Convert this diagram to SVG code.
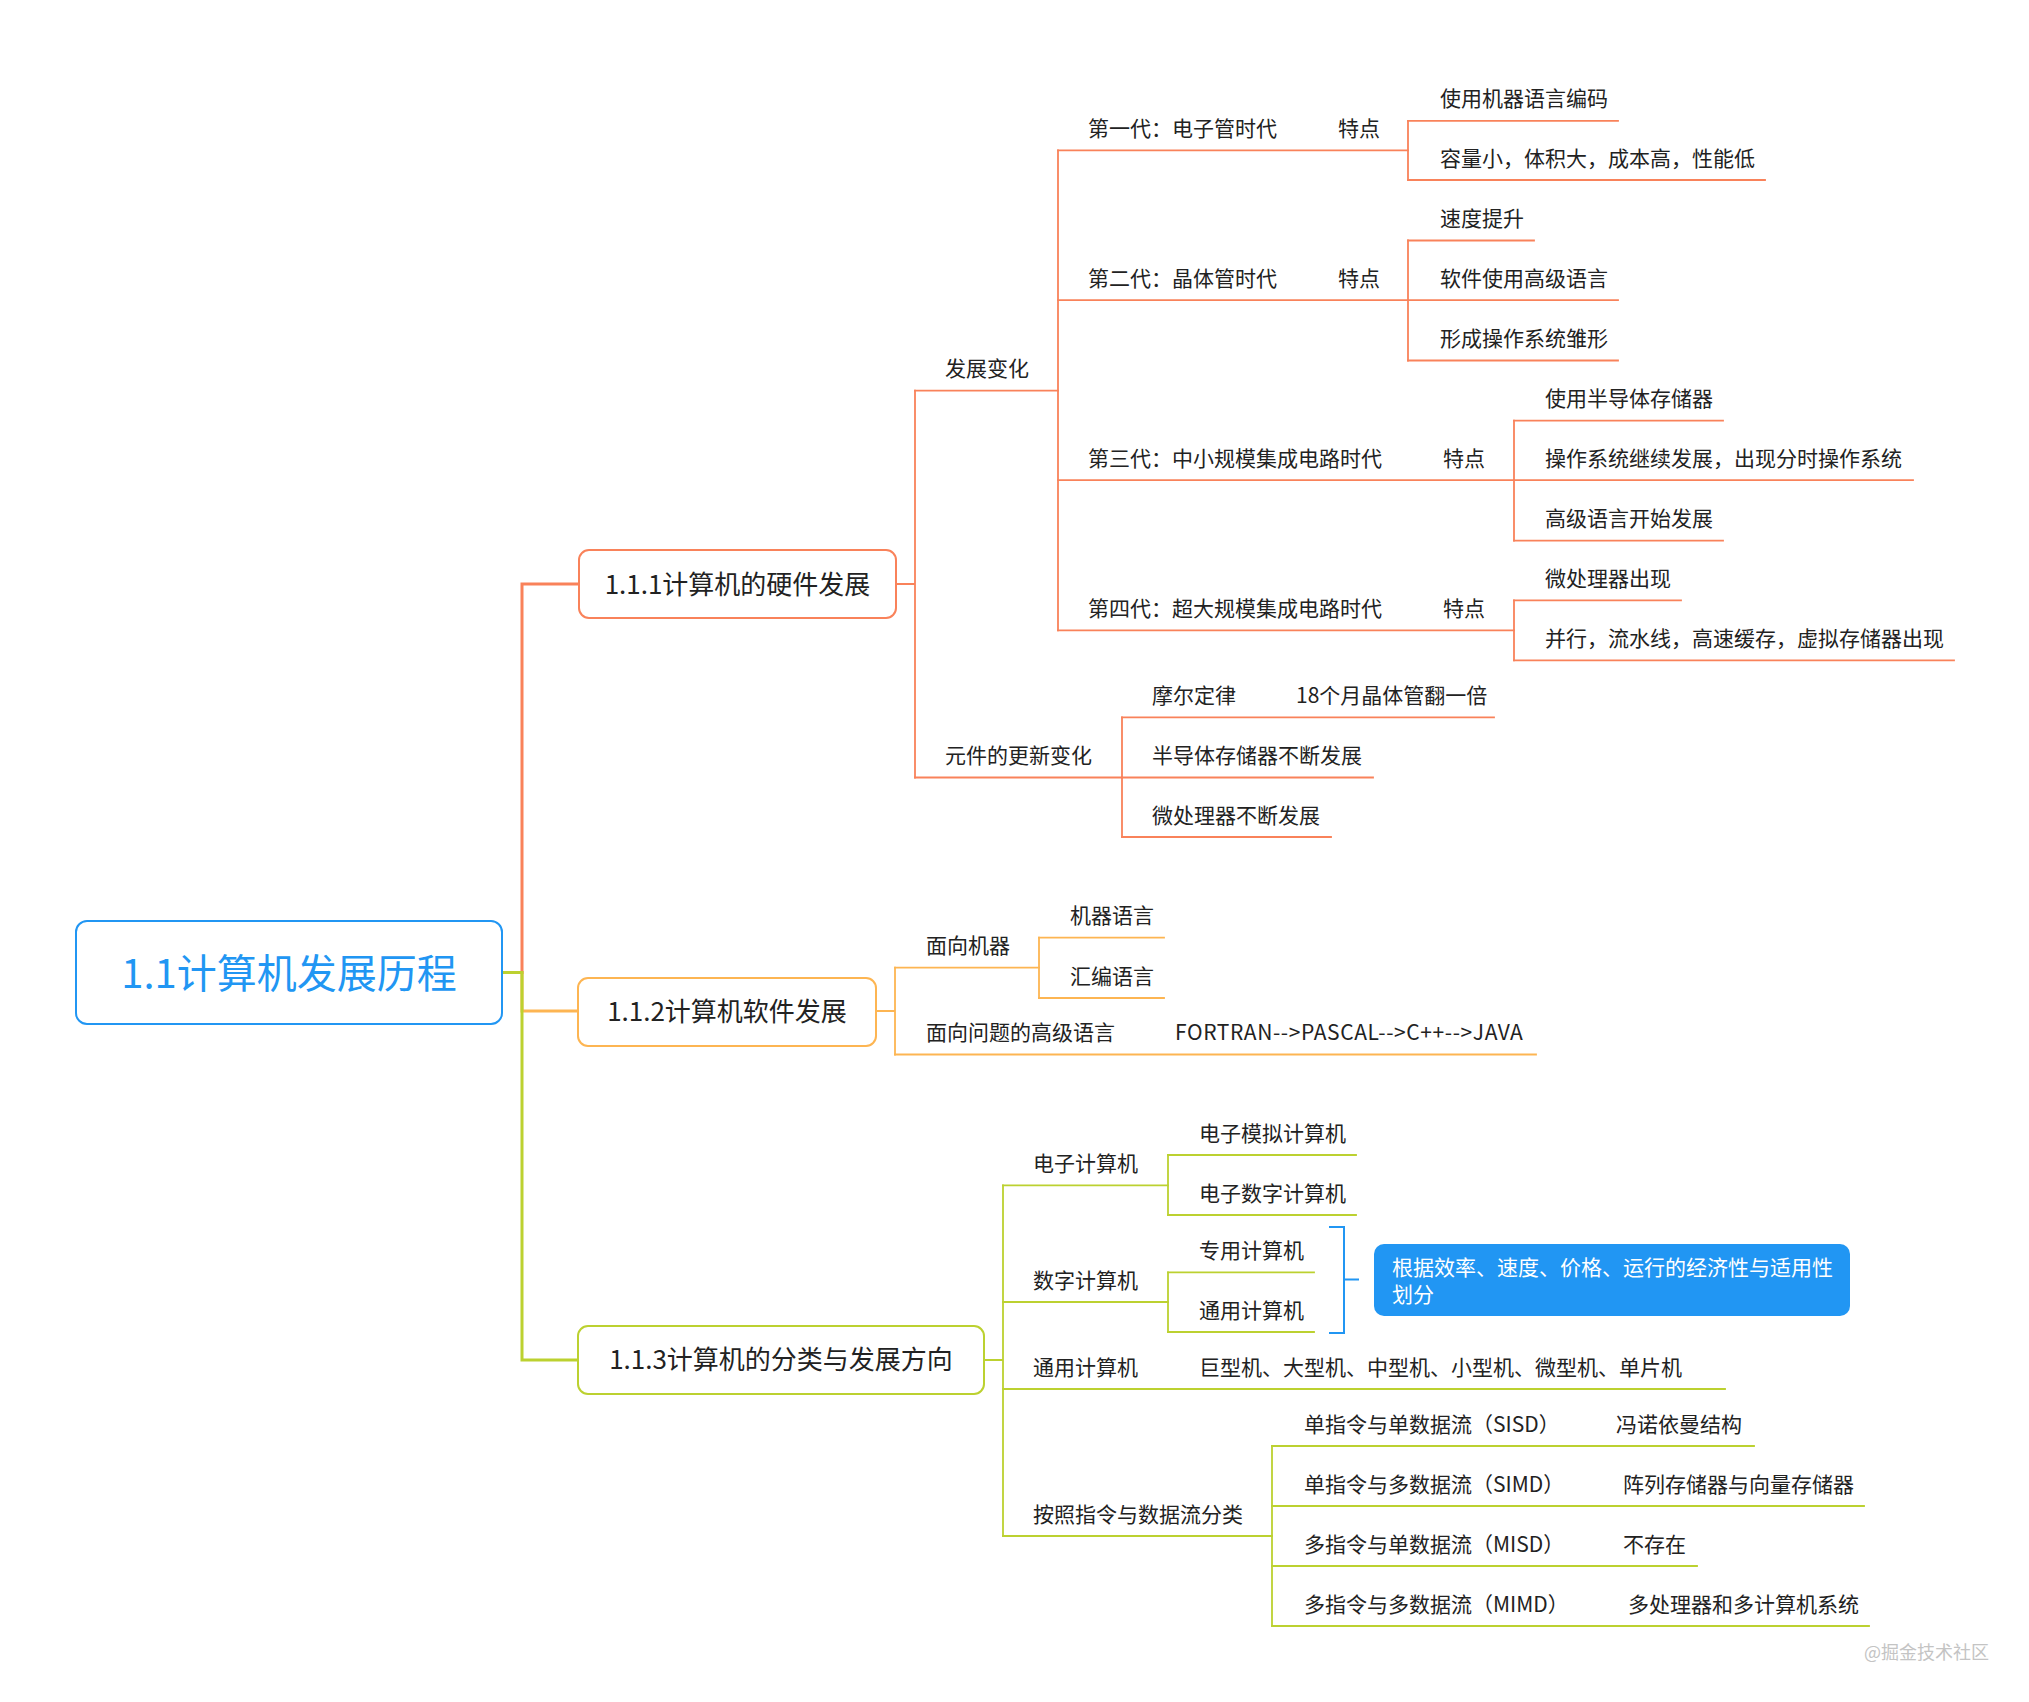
<svg xmlns="http://www.w3.org/2000/svg" width="2029" height="1702" viewBox="0 0 2029 1702">
<style>
text{font-family:"Noto Sans CJK SC","Noto Sans",sans-serif;}
.t{font-size:21px;fill:#222;}
.m{font-size:26px;fill:#222;text-anchor:middle;}
.r{font-size:40px;fill:#2196F3;text-anchor:middle;}
.w{font-size:21px;fill:#fff;}
.wm{font-size:18px;fill:#c4c4c4;}
.ln{fill:none;stroke-width:1.8;stroke-linecap:square;}
.tr{fill:none;stroke-width:3;stroke-linejoin:miter;}
.o{stroke:#F9825A;}
.lo{stroke:#FDB552;}
.g{stroke:#BCD130;}
.box{fill:#fff;stroke-width:2;}
</style>
<rect width="2029" height="1702" fill="#fff"/>
<g id="connectors">
  <path class="tr lo" d="M502 972.5H522V1011H578"/>
  <path class="tr o" d="M502 972.5H522V584H579"/>
  <path class="tr g" d="M502 972.5H522V1360H578"/>
  <path class="ln o" d="M896 584H915M915 390.6V777.5M1058 150.4V630.3M1408 120.8V180M1408 240.5V360.5M1514 420.6V540.6M1514 600.3V660.3M1122 717.4V837"/>
  <path class="ln lo" d="M876 1011H895M895 967.7V1054.5M1039 937.7V998"/>
  <path class="ln g" d="M984 1360H1003M1003 1185.4V1536M1168 1155V1215M1168 1272.4V1332M1272 1446V1626"/>
  <path fill="none" stroke="#2196F3" stroke-width="2" d="M1329 1227H1344V1333H1329M1344 1279.5H1359"/>
</g>
<g id="root">
  <rect x="76" y="921" width="426" height="103" rx="11" fill="#fff" stroke="#2196F3" stroke-width="2"/>
  <text class="r" x="289" y="988">1.1计算机发展历程</text>
</g>
<g id="n111">
  <rect class="box o" x="579" y="550" width="317" height="68" rx="10"/>
  <text class="m" x="737.5" y="594">1.1.1计算机的硬件发展</text>
</g>
<g id="n112">
  <rect class="box lo" x="578" y="978" width="298" height="68" rx="10"/>
  <text class="m" x="727" y="1021">1.1.2计算机软件发展</text>
</g>
<g id="n113">
  <rect class="box g" x="578" y="1326" width="406" height="68" rx="10"/>
  <text class="m" x="781" y="1369">1.1.3计算机的分类与发展方向</text>
</g>
<g id="fazhan">
  <path class="ln o" d="M915 390.6H1058"/>
  <text class="t" x="945" y="376">发展变化</text>
</g>
<g id="gen1">
  <path class="ln o" d="M1058 150.4H1408"/>
  <text class="t" x="1088" y="136">第一代：电子管时代</text>
  <text class="t" x="1338" y="136">特点</text>
</g>
<g id="gen1a">
  <path class="ln o" d="M1408 120.8H1618"/>
  <text class="t" x="1440" y="106">使用机器语言编码</text>
</g>
<g id="gen1b">
  <path class="ln o" d="M1408 180H1765"/>
  <text class="t" x="1440" y="165.5">容量小，体积大，成本高，性能低</text>
</g>
<g id="gen2">
  <path class="ln o" d="M1058 300.2H1408"/>
  <text class="t" x="1088" y="285.7">第二代：晶体管时代</text>
  <text class="t" x="1338" y="285.7">特点</text>
</g>
<g id="gen2a">
  <path class="ln o" d="M1408 240.5H1534"/>
  <text class="t" x="1440" y="226">速度提升</text>
</g>
<g id="gen2b">
  <path class="ln o" d="M1408 300.2H1618"/>
  <text class="t" x="1440" y="285.7">软件使用高级语言</text>
</g>
<g id="gen2c">
  <path class="ln o" d="M1408 360.5H1618"/>
  <text class="t" x="1440" y="346">形成操作系统雏形</text>
</g>
<g id="gen3">
  <path class="ln o" d="M1058 480.2H1514"/>
  <text class="t" x="1088" y="465.7">第三代：中小规模集成电路时代</text>
  <text class="t" x="1443" y="465.7">特点</text>
</g>
<g id="gen3a">
  <path class="ln o" d="M1514 420.6H1723"/>
  <text class="t" x="1545" y="406">使用半导体存储器</text>
</g>
<g id="gen3b">
  <path class="ln o" d="M1514 480.2H1913"/>
  <text class="t" x="1545" y="465.7">操作系统继续发展，出现分时操作系统</text>
</g>
<g id="gen3c">
  <path class="ln o" d="M1514 540.6H1723"/>
  <text class="t" x="1545" y="526">高级语言开始发展</text>
</g>
<g id="gen4">
  <path class="ln o" d="M1058 630.3H1514"/>
  <text class="t" x="1088" y="615.8">第四代：超大规模集成电路时代</text>
  <text class="t" x="1443" y="615.8">特点</text>
</g>
<g id="gen4a">
  <path class="ln o" d="M1514 600.3H1681"/>
  <text class="t" x="1545" y="585.8">微处理器出现</text>
</g>
<g id="gen4b">
  <path class="ln o" d="M1514 660.3H1954"/>
  <text class="t" x="1545" y="645.8">并行，流水线，高速缓存，虚拟存储器出现</text>
</g>
<g id="yuanjian">
  <path class="ln o" d="M915 777.5H1122"/>
  <text class="t" x="945" y="763">元件的更新变化</text>
</g>
<g id="moore">
  <path class="ln o" d="M1122 717.4H1494"/>
  <text class="t" x="1152" y="703">摩尔定律</text>
  <text class="t" x="1296" y="703">18个月晶体管翻一倍</text>
</g>
<g id="semi">
  <path class="ln o" d="M1122 777.5H1373"/>
  <text class="t" x="1152" y="763">半导体存储器不断发展</text>
</g>
<g id="micro">
  <path class="ln o" d="M1122 837H1331"/>
  <text class="t" x="1152" y="822.5">微处理器不断发展</text>
</g>
<g id="mianxiangjiqi">
  <path class="ln lo" d="M895 967.7H1039"/>
  <text class="t" x="926" y="953.2">面向机器</text>
</g>
<g id="jiqiyuyan">
  <path class="ln lo" d="M1039 937.7H1164"/>
  <text class="t" x="1070" y="923.2">机器语言</text>
</g>
<g id="huibian">
  <path class="ln lo" d="M1039 998H1164"/>
  <text class="t" x="1070" y="983.5">汇编语言</text>
</g>
<g id="gaoji">
  <path class="ln lo" d="M895 1054.5H1536"/>
  <text class="t" x="926" y="1040">面向问题的高级语言</text>
  <text class="t" x="1175" y="1040" letter-spacing="0.6">FORTRAN--&gt;PASCAL--&gt;C++--&gt;JAVA</text>
</g>
<g id="dianzi">
  <path class="ln g" d="M1003 1185.4H1168"/>
  <text class="t" x="1033" y="1171">电子计算机</text>
</g>
<g id="moni">
  <path class="ln g" d="M1168 1155H1356"/>
  <text class="t" x="1199" y="1140.5">电子模拟计算机</text>
</g>
<g id="shuzi1">
  <path class="ln g" d="M1168 1215H1356"/>
  <text class="t" x="1199" y="1200.5">电子数字计算机</text>
</g>
<g id="shuzi">
  <path class="ln g" d="M1003 1302H1168"/>
  <text class="t" x="1033" y="1287.5">数字计算机</text>
</g>
<g id="zhuanyong">
  <path class="ln g" d="M1168 1272.4H1314"/>
  <text class="t" x="1199" y="1258">专用计算机</text>
</g>
<g id="tongyong1">
  <path class="ln g" d="M1168 1332H1314"/>
  <text class="t" x="1199" y="1317.5">通用计算机</text>
</g>
<g id="note">
  <rect x="1374" y="1244" width="476" height="72" rx="10" fill="#2196F3"/>
  <text class="w" x="1392" y="1275">根据效率、速度、价格、运行的经济性与适用性</text>
  <text class="w" x="1392" y="1301.5">划分</text>
</g>
<g id="tongyong2">
  <path class="ln g" d="M1003 1389H1725"/>
  <text class="t" x="1033" y="1374.5">通用计算机</text>
  <text class="t" x="1199" y="1374.5">巨型机、大型机、中型机、小型机、微型机、单片机</text>
</g>
<g id="zhiling">
  <path class="ln g" d="M1003 1536H1272"/>
  <text class="t" x="1033" y="1521.5">按照指令与数据流分类</text>
</g>
<g id="sisd">
  <path class="ln g" d="M1272 1446H1754"/>
  <text class="t" x="1304" y="1431.5">单指令与单数据流（SISD）</text>
  <text class="t" x="1616" y="1431.5">冯诺依曼结构</text>
</g>
<g id="simd">
  <path class="ln g" d="M1272 1506H1864"/>
  <text class="t" x="1304" y="1491.5">单指令与多数据流（SIMD）</text>
  <text class="t" x="1623" y="1491.5">阵列存储器与向量存储器</text>
</g>
<g id="misd">
  <path class="ln g" d="M1272 1566H1697"/>
  <text class="t" x="1304" y="1551.5">多指令与单数据流（MISD）</text>
  <text class="t" x="1623" y="1551.5">不存在</text>
</g>
<g id="mimd">
  <path class="ln g" d="M1272 1626H1869"/>
  <text class="t" x="1304" y="1611.5">多指令与多数据流（MIMD）</text>
  <text class="t" x="1628" y="1611.5">多处理器和多计算机系统</text>
</g>
<text class="wm" x="1864" y="1659">@掘金技术社区</text>
</svg>
